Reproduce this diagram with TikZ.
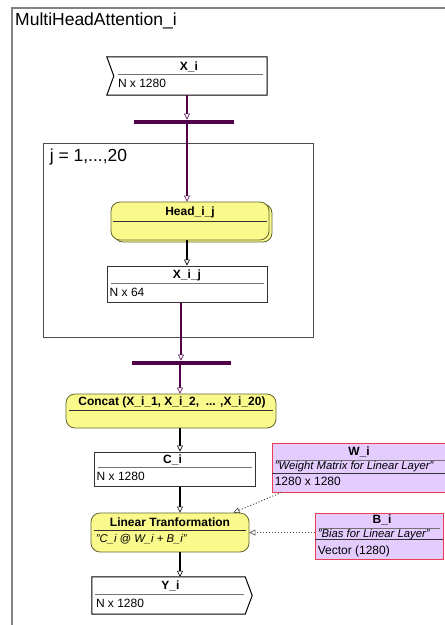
\documentclass[tikz,border=0pt]{standalone}
\usepackage{fontspec}
\setmainfont{Liberation Sans}
\usetikzlibrary{arrows.meta,calc,positioning}
\definecolor{linkpurple}{RGB}{80,0,72}
\definecolor{actyellow}{RGB}{250,250,140}
\definecolor{actedge}{RGB}{100,100,50}
\definecolor{objlilac}{RGB}{228,204,255}
\definecolor{objred}{RGB}{235,60,80}
\definecolor{framegray}{RGB}{130,130,130}
\tikzset{
  flow/.style={-{Triangle[length=6pt,width=6pt,fill=white,line width=0.6pt]},line width=1.3pt},
  purpleflow/.style={flow,draw=linkpurple},
  dotlink/.style={-{Triangle[length=6pt,width=6pt,fill=white,line width=0.6pt]},line width=1pt,dotted,draw=black!75},
  objbox/.style={draw=black!80,line width=1pt,fill=white,inner sep=0pt},
  actbox/.style={draw=actedge,line width=0.8pt,fill=actyellow,rounded corners=9pt,inner sep=0pt},
  databox/.style={draw=objred,line width=0.8pt,fill=objlilac,inner sep=0pt},
  syncbar/.style={fill=linkpurple,inner sep=0pt,minimum height=4.5pt},
  hdrline/.style={draw=black!55,line width=0.8pt},
  boxtitle/.style={font=\fontsize{12}{13}\selectfont\bfseries,inner sep=0pt},
  boxtext/.style={font=\fontsize{12}{13}\selectfont,inner sep=0pt,anchor=west},
  boxnote/.style={font=\fontsize{11.3}{13}\selectfont\itshape,inner sep=0pt,anchor=west}
}
\begin{document}
\begin{tikzpicture}[x=1pt,y=-1pt]
  \useasboundingbox (0,0) rectangle (445,625);
  % frame
  \draw[framegray,line width=1.2pt] (12,626) -- (12,8) -- (446,8);
  \node[anchor=west,inner sep=0pt,font=\fontsize{17.5}{20}\selectfont] (frametitle) at (15,21) {MultiHeadAttention\_i};
  \coordinate (spine) at (180,363);

  % input X_i
  \node[minimum width=160pt,minimum height=38pt,inner sep=0pt] (xi) at (187,76) {};
  \draw[line width=1pt,fill=white] (xi.north west) -- (xi.north east) -- (xi.south east) -- (xi.south west) -- ($(xi.west)+(7,0)$) -- cycle;
  \draw[hdrline] ($(xi.north west)+(11,18)$) -- ($(xi.north east)+(-4,18)$);
  \node[boxtitle] (xititle) at ($(xi.north)+(2,10)$) {X\_i};
  \node[boxtext] (xidim) at ($(xi.north west)+(11,27)$) {N x 1280};

  % fork
  \node[syncbar,minimum width=100pt] (fork) at (184,122) {};
  \draw[purpleflow] (xi.south) -- (xi.south |- fork.north);

  % loop over j
  \node[draw=black!70,line width=0.8pt,minimum width=270pt,minimum height=194pt,inner sep=0pt] (loop) at (178,240) {};
  \node[anchor=west,inner sep=0pt,font=\fontsize{17.5}{20}\selectfont] (looplabel) at ($(loop.north west)+(7,14)$) {j = 1,...,20};

  % Head_i_j
  \node[actbox,minimum width=158pt,minimum height=38pt] (headshadow) at (193,223) {};
  \node[actbox,minimum width=158pt,minimum height=38pt] (head) at (190,221) {};
  \draw[hdrline,draw=black!80] ($(head.north west)+(2,20)$) -- ($(head.north east)+(-2,20)$);
  \node[boxtitle] (headtitle) at ($(head.north)+(0,11)$) {Head\_i\_j};
  \draw[purpleflow] (fork.south -| xi.south) -- (xi.south |- head.north);

  % X_i_j
  \node[objbox,minimum width=160pt,minimum height=36pt] (xij) at (187,284) {};
  \draw[hdrline] ($(xij.north west)+(4,18)$) -- ($(xij.north east)+(-4,18)$);
  \node[boxtitle] (xijtitle) at ($(xij.north)+(0,10)$) {X\_i\_j};
  \node[boxtext] (xijdim) at ($(xij.north west)+(3,27)$) {N x 64};
  \draw[flow] (head.south -| xij.north) -- (xij.north);

  % join
  \node[syncbar,minimum width=99pt] (join) at (181,363) {};
  \draw[purpleflow] (xij.south -| join.north) -- (join.north);

  % Concat
  \node[actbox,minimum width=210pt,minimum height=34pt] (concat) at (171,411) {};
  \draw[hdrline,draw=black!80] ($(concat.north west)+(3,17)$) -- ($(concat.north east)+(-3,17)$);
  \node[boxtitle] (concattitle) at ($(concat.north)+(1,9)$) {Concat (X\_i\_1, X\_i\_2,\ \ ... ,X\_i\_20)};
  \draw[purpleflow] (join.south -| spine) -- (concat.north -| spine);

  % C_i
  \node[objbox,minimum width=161pt,minimum height=34pt] (ci) at (174.5,469) {};
  \draw[hdrline] ($(ci.north west)+(4,16)$) -- ($(ci.north east)+(-4,16)$);
  \node[boxtitle] (cititle) at ($(ci.north)+(-2,8)$) {C\_i};
  \node[boxtext] (cidim) at ($(ci.north west)+(3,25)$) {N x 1280};
  \draw[flow] (concat.south -| spine) -- (ci.north -| spine);

  % Linear
  \node[actbox,minimum width=158pt,minimum height=39pt] (lin) at (170,532.5) {};
  \draw[hdrline,draw=black!80] ($(lin.north west)+(3,18)$) -- ($(lin.north east)+(-3,18)$);
  \node[boxtitle] (lintitle) at ($(lin.north)+(0,10)$) {Linear Tranformation};
  \node[boxnote] (linnote) at ($(lin.north west)+(5,27)$) {"C\_i @ W\_i + B\_i"};
  \draw[flow] (ci.south -| spine) -- (lin.north -| spine);

  % output Y_i
  \node[minimum width=153pt,minimum height=37pt,inner sep=0pt] (yi) at (168.5,595.5) {};
  \draw[line width=1pt,fill=white] (yi.north west) -- (yi.north east) -- ($(yi.east)+(7,0)$) -- (yi.south east) -- (yi.south west) -- cycle;
  \draw[hdrline] ($(yi.north west)+(3,18)$) -- ($(yi.north east)+(-1,18)$);
  \node[boxtitle] (yititle) at ($(yi.north)+(2,9)$) {Y\_i};
  \node[boxtext] (yidim) at ($(yi.north west)+(4,27)$) {N x 1280};
  \draw[flow] (lin.south -| spine) -- (yi.north -| spine);

  % W_i
  \node[databox,minimum width=176pt,minimum height=49pt] (wi) at (360,467.5) {};
  \node[boxtitle] (wititle) at ($(wi.north)+(-1,9)$) {W\_i};
  \draw[hdrline] ($(wi.north west)+(4,17.5)$) -- ($(wi.north east)+(-2,17.5)$);
  \node[boxnote] (winote) at ($(wi.north west)+(3,24)$) {"Weight Matrix for Linear Layer"};
  \draw[draw=black!80,line width=0.8pt] ($(wi.north west)+(0,30.5)$) -- ($(wi.north east)+(0,30.5)$);
  \node[boxtext] (widim) at ($(wi.north west)+(3,38.5)$) {1280 x 1280};

  % B_i
  \node[databox,minimum width=128pt,minimum height=46pt] (bi) at (379,536) {};
  \node[boxtitle] (bititle) at ($(bi.north)+(3,7.5)$) {B\_i};
  \draw[hdrline] ($(bi.north west)+(4,16)$) -- ($(bi.north east)+(-3,16)$);
  \node[boxnote] (binote) at ($(bi.north west)+(3,21.5)$) {"Bias for Linear Layer"};
  \draw[draw=black!80,line width=0.8pt] ($(bi.north west)+(0,27)$) -- ($(bi.north east)+(0,27)$);
  \node[boxtext] (bidim) at ($(bi.north west)+(3,38.5)$) {Vector (1280)};

  % dependencies
  \draw[dotlink] ($(wi.south west)+(10,0)$) -- ($(lin.north east)+(-16,0)$);
  \draw[dotlink] (lin.east -| bi.west) -- (lin.east);
\end{tikzpicture}
\end{document}
